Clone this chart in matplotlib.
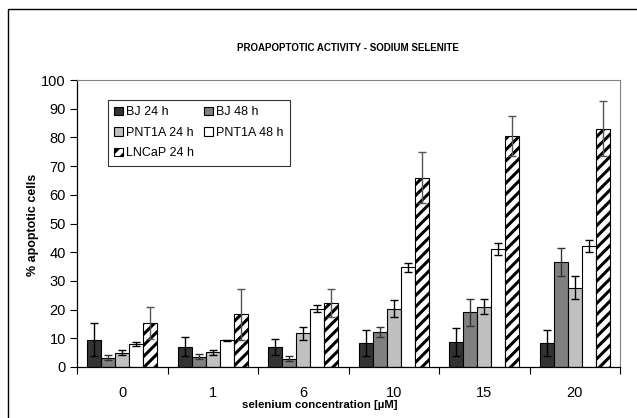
import matplotlib
matplotlib.use("Agg")
import matplotlib.pyplot as plt
from matplotlib.patches import Rectangle
import numpy as np

plt.rcParams["font.family"] = ["Liberation Sans", "DejaVu Sans"]
plt.rcParams["hatch.linewidth"] = 2.2

# Selenium concentrations (uM) and % apoptotic cells per cell line / time
concentrations = ["0", "1", "6", "10", "15", "20"]
series_names = ["BJ 24 h", "BJ 48 h", "PNT1A 24 h", "PNT1A 48 h", "LNCaP 24 h"]

bj_24 = [9.5, 7.1, 7.1, 8.5, 8.8, 8.5]
bj_48 = [3.3, 3.6, 2.9, 12.2, 19.0, 36.6]
pnt1a_24 = [5.0, 5.1, 11.8, 20.3, 21.0, 27.7]
pnt1a_48 = [8.0, 9.3, 20.3, 34.7, 41.1, 42.3]
lncap_24 = [15.2, 18.3, 22.3, 66.0, 80.5, 83.1]

bj_24_err = [5.7, 3.4, 2.8, 4.5, 4.9, 4.5]
bj_48_err = [0.8, 0.8, 0.8, 1.7, 4.7, 4.9]
pnt1a_24_err = [0.8, 0.8, 2.3, 2.9, 2.7, 4.1]
pnt1a_48_err = [0.7, 0.2, 1.3, 1.5, 2.1, 2.1]
lncap_24_err = [5.6, 9.0, 4.8, 8.9, 7.1, 9.6]

values = [bj_24, bj_48, pnt1a_24, pnt1a_48, lncap_24]
errors = [bj_24_err, bj_48_err, pnt1a_24_err, pnt1a_48_err, lncap_24_err]
fills = ["#333333", "#808080", "#c0c0c0", "#ffffff", "#ffffff"]
hatches = [None, None, None, None, "///"]
err_colors = ["#000000", "#333333", "#000000", "#000000", "#555555"]

fig = plt.figure(figsize=(6.37, 4.18), dpi=100)
ax = fig.add_axes([77 / 637, 1 - 367 / 418, 543 / 637, 287 / 418])

x = np.arange(len(concentrations))
width = 0.155
handles = []
for i, (vals, errs) in enumerate(zip(values, errors)):
    pos = x + (i - 2) * width
    bars = ax.bar(pos, vals, width, color=fills[i], edgecolor="black",
                  linewidth=0.8, hatch=hatches[i], label=series_names[i], zorder=2)
    ax.errorbar(pos, vals, yerr=errs, fmt="none", ecolor=err_colors[i],
                elinewidth=1.0, capsize=2.6, capthick=1.0, zorder=3)
    handles.append(bars)

ax.set_xlim(-0.5, 5.5)
ax.set_ylim(0, 100)
ax.set_yticks(np.arange(0, 101, 10))
ax.set_xticks(x)
ax.set_xticklabels(concentrations)
ax.set_xticks(np.arange(-0.5, 6.0, 1.0), minor=True)
ax.tick_params(axis="x", which="major", length=0, labelsize=10.5, pad=14)
ax.tick_params(axis="x", which="minor", length=5, width=0.8, direction="out")
ax.tick_params(axis="y", length=5, width=0.8, direction="out", labelsize=10.5, pad=3)

for side in ["top", "right"]:
    ax.spines[side].set_color("#808080")
    ax.spines[side].set_linewidth(0.8)
ax.spines["left"].set_linewidth(0.9)
ax.spines["bottom"].set_linewidth(0.9)

fig.text(33 / 637, 1 - 225 / 418, "% apoptotic cells", rotation=90,
         ha="center", va="center", fontsize=9, fontweight="bold")
fig.text(320 / 637, 1 - 405 / 418, "selenium concentration [\u00b5M]",
         ha="center", va="center", fontsize=8.2, fontweight="bold")
fig.text(348 / 637, 1 - 48 / 418, "PROAPOPTOTIC ACTIVITY - SODIUM SELENITE",
         ha="center", va="center", fontsize=7.0, fontweight="bold")

# legend filled row by row: reorder for matplotlib's column-wise layout
order = [0, 2, 4, 1, 3]
leg = ax.legend([handles[k] for k in order], [series_names[k] for k in order],
                ncol=2, loc="upper left", bbox_to_anchor=(0.057, 0.93),
                fontsize=9, frameon=True, fancybox=False, edgecolor="black",
                handlelength=0.7, handleheight=0.7, handletextpad=0.25,
                columnspacing=0.8, labelspacing=0.68, borderpad=0.5,
                borderaxespad=0)
leg.get_frame().set_linewidth(0.8)

# outer chart frame
fig.patches.append(Rectangle((8 / 637, -0.1), 2.0, (418 - 9) / 418 + 0.1,
                             transform=fig.transFigure, fill=False,
                             edgecolor="black", linewidth=1.0))

fig.savefig("out.png", dpi=100)
